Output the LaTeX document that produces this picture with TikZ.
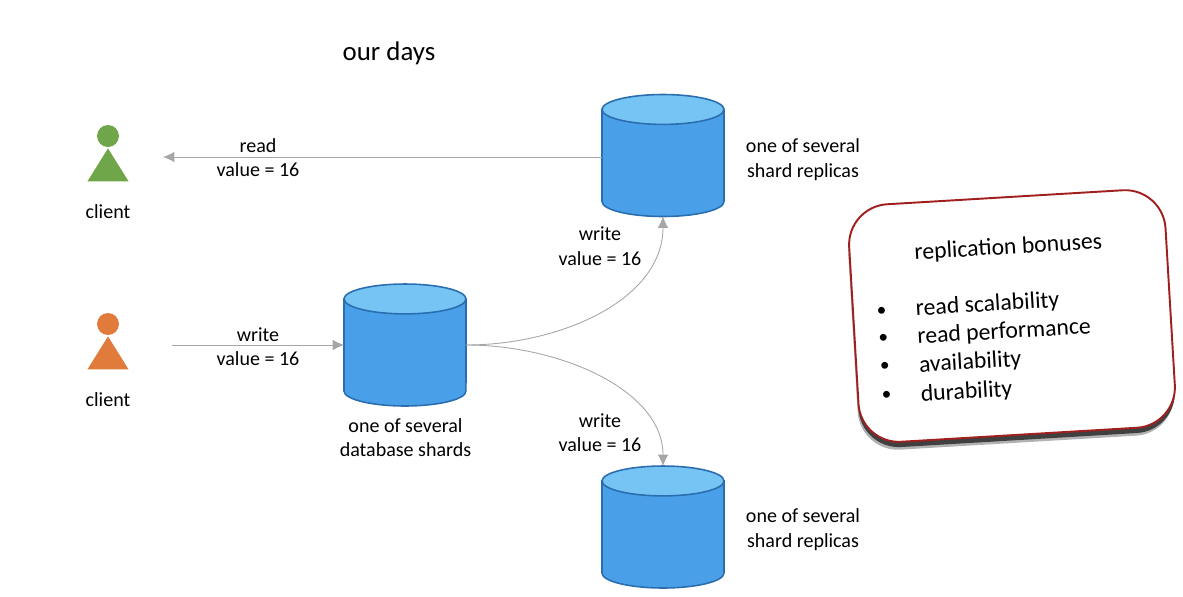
\documentclass[tikz,border=0pt]{standalone}
\usepackage{fontspec}
\setmainfont{Carlito}
\usepackage{tikz}
\usetikzlibrary{arrows.meta,shapes.geometric,shadows}

\definecolor{dbbody}{HTML}{4AA0E8}
\definecolor{dbtop}{HTML}{76C4F4}
\definecolor{dbline}{HTML}{2A6EB0}
\definecolor{clientgreen}{HTML}{70A64A}
\definecolor{clientorange}{HTML}{E07B3C}
\definecolor{boxred}{HTML}{A02020}
\definecolor{flowgray}{HTML}{A6A6A6}

\tikzset{
  shard/.style={rectangle,minimum width=122*0.569pt,minimum height=122*0.569pt,inner sep=0pt,outer sep=0pt},
  shardline/.style={draw=dbline,line width=0.9pt},
  flow/.style={draw=flowgray,line width=0.5pt,-{Latex[length=6.5pt,width=6pt,fill=flowgray]}},
  txt/.style={align=center,inner sep=0pt,font=\fontsize{11.4}{13.9}\selectfont},
  boxtxt/.style={anchor=base west,inner sep=0pt,transform shape,font=\fontsize{13.5}{15}\selectfont},
  boxdot/.style={boxtxt,font=\fontsize{11}{13}\selectfont},
  headcircle/.style={circle,minimum size=22*0.569pt,inner sep=0pt},
  body/.style={isosceles triangle,isosceles triangle apex angle=64,shape border rotate=90,inner sep=0pt,
    minimum height=33*0.569pt,minimum width=41*0.569pt}
}

% cylinder: name, position
\newcommand{\shardat}[2]{
    \node[shard] (#1) at (#2) {};
    \draw[shardline,fill=dbbody] ([yshift=-8.5pt]#1.north west) -- ([yshift=8.5pt]#1.south west)
        arc[start angle=180,end angle=360,x radius=34.7pt,y radius=8.5pt]
        -- ([yshift=-8.5pt]#1.north east) -- cycle;
    \draw[shardline,fill=dbtop] ([yshift=-8.5pt]#1.north) ellipse[x radius=34.7pt,y radius=8.5pt];
}

\begin{document}
\begin{tikzpicture}[x=0.02cm,y=-0.02cm]
        \useasboundingbox (0,0) rectangle (1183,596);

        \node[font=\fontsize{15.3}{17}\selectfont] (title) at (389,53) {our days};

        % clients
        \node[headcircle,fill=clientgreen] (readhead) at (108,136) {};
        \node[body,fill=clientgreen] (readbody) at (108,170) {};
        \node[txt] (readclient) at (108,211.5) {client};
        \node[headcircle,fill=clientorange] (writehead) at (108,324) {};
        \node[body,fill=clientorange] (writebody) at (108,358) {};
        \node[txt] (writeclient) at (108,399.5) {client};

        % shards
        \shardat{primary}{405,345}
        \shardat{replicaA}{663,155.5}
        \shardat{replicaB}{663,527}
        \node[txt] (primarytxt) at (405.5,437.5) {one of several\\database shards};
        \node[txt] (replicaAtxt) at (803,159.5) {one of several\\shard replicas};
        \node[txt] (replicaBtxt) at (803,529.5) {one of several\\shard replicas};

        \coordinate (readend) at (163,157);
        \coordinate (writestart) at (172,345);

        \draw[flow] (replicaA.west |- readend) -- (readend); % read from replica
        \draw[flow] (writestart) -- (primary.west |- writestart); % write to shard
        \draw[flow] (primary.east) .. controls (560,345) and (663,300) .. (replicaA.south); % up
        \draw[flow] (primary.east) .. controls (560,345) and (663,390) .. (replicaB.north); % down

        \node[txt] (readlbl) at (258,157.5) {read\\value = 16};
        \node[txt] (writelbl) at (258,346.5) {write\\value = 16};
        \node[txt] (uplbl) at (600,246) {write\\value = 16};
        \node[txt] (downlbl) at (600,432.5) {write\\value = 16};

        % bonuses box
        \begin{scope}[rotate around={3.4:(1012,316)}]
            \node[draw=boxred,fill=white,line width=1.1pt,rounded corners=23pt,transform shape,
                minimum width=317*0.569pt,minimum height=238*0.569pt,
                general shadow={shadow xshift=-0.5pt,shadow yshift=-4.5pt,fill=black!30},
                general shadow={shadow xshift=0pt,shadow yshift=-3pt,fill=black!75}] (bonuses) at (1012,316) {};
            \node[boxtxt] (bonushead) at (918,254) {replication bonuses};
            \node[boxdot] (bulletA) at (877,308) {•};
            \node[boxtxt] (itemA) at (916,310) {read scalability};
            \node[boxdot] (bulletB) at (877,336) {•};
            \node[boxtxt] (itemB) at (916,338) {read performance};
            \node[boxdot] (bulletC) at (877,364) {•};
            \node[boxtxt] (itemC) at (916,366.5) {availability};
            \node[boxdot] (bulletD) at (877,393) {•};
            \node[boxtxt] (itemD) at (916,396) {durability};
        \end{scope}
    \end{tikzpicture}
\end{document}
